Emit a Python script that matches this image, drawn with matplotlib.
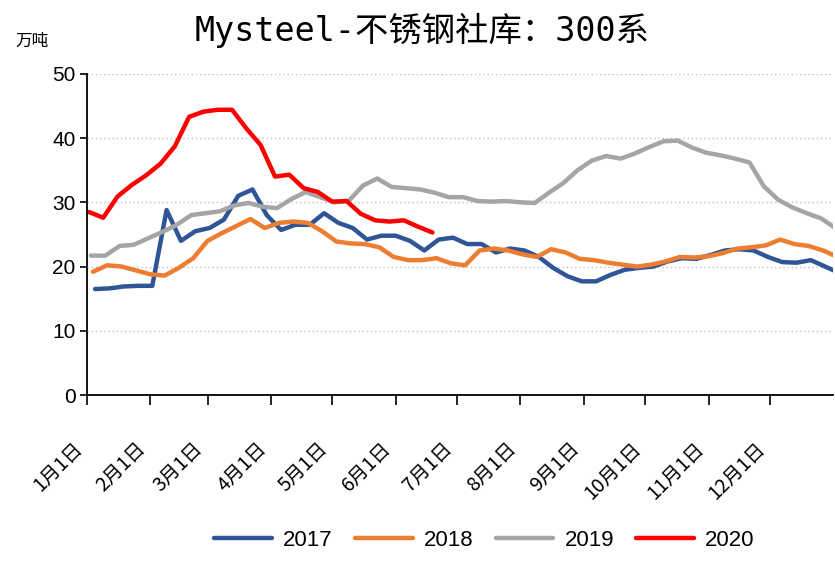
import numpy as np
import pandas as pd
import matplotlib
matplotlib.use('Agg')
import matplotlib.pyplot as plt

plt.rcParams['font.family'] = ['Liberation Sans', 'Noto Sans CJK SC', 'DejaVu Sans']

# 周度数据（万吨），每年第一周的日期不同
v2017 = [16.5, 16.6, 16.9, 17.0, 17.0, 28.8, 24.0, 25.5, 26.0, 27.3, 31.0, 32.0, 28.0,
         25.7, 26.5, 26.5, 28.3, 26.8, 26.0, 24.2, 24.8, 24.8, 24.0, 22.5, 24.2, 24.5,
         23.5, 23.5, 22.2, 22.8, 22.5, 21.5, 19.8, 18.5, 17.7, 17.7, 18.7, 19.5, 19.8,
         20.0, 20.8, 21.3, 21.2, 21.8, 22.5, 22.7, 22.5, 21.5, 20.7, 20.6, 21.0, 20.0, 19.0]
v2018 = [19.2, 20.2, 20.0, 19.4, 18.8, 18.6, 19.8, 21.3, 24.0, 25.2, 26.3, 27.4, 26.0,
         26.8, 27.0, 26.8, 25.5, 23.9, 23.6, 23.5, 23.0, 21.5, 21.0, 21.0, 21.3, 20.5,
         20.2, 22.5, 22.8, 22.5, 21.9, 21.5, 22.7, 22.2, 21.2, 21.0, 20.6, 20.3, 20.0,
         20.3, 20.8, 21.5, 21.4, 21.6, 22.1, 22.8, 23.0, 23.3, 24.2, 23.5, 23.2, 22.5, 21.5]
v2019 = [21.7, 21.7, 23.2, 23.4, 24.4, 25.4, 26.5, 28.0, 28.3, 28.6, 29.5, 29.9, 29.3,
         29.1, 30.5, 31.6, 30.8, 30.0, 30.2, 32.6, 33.7, 32.4, 32.2, 32.0, 31.5, 30.8,
         30.8, 30.2, 30.1, 30.2, 30.0, 29.9, 31.5, 33.0, 35.0, 36.5, 37.2, 36.8, 37.6,
         38.6, 39.5, 39.6, 38.5, 37.7, 37.3, 36.8, 36.2, 32.5, 30.4, 29.2, 28.3, 27.5, 26.0]
v2020 = [28.5, 27.6, 30.9, 32.7, 34.2, 36.0, 38.7, 43.3, 44.1, 44.4, 44.4, 41.5, 38.9,
         34.0, 34.3, 32.2, 31.6, 30.1, 30.2, 28.2, 27.2, 27.0, 27.2, 26.2, 25.3]

series = [
    ('2017', '2017-01-05', v2017, '#2F5597'),
    ('2018', '2018-01-04', v2018, '#ED7D31'),
    ('2019', '2019-01-03', v2019, '#A5A5A5'),
    ('2020', '2020-01-02', v2020, '#FF0000'),
]

month_ticks = [0, 31, 59, 90, 120, 151, 181, 212, 243, 273, 304, 334]
month_labels = ['%d月1日' % m for m in range(1, 13)]

fig = plt.figure(figsize=(8.35, 5.81), dpi=100)
ax = fig.add_axes([0.104, 0.32, 0.894, 0.553])

for name, start, vals, color in series:
    dates = pd.date_range(start, periods=len(vals), freq='7D')
    # 按当年1月1日起算的天数，年末一周可越过365
    x = (dates - pd.Timestamp(start[:4] + '-01-01')).days
    ax.plot(x, vals, color=color, lw=3.2, label=name, solid_capstyle='round')

ax.set_xlim(0, 365)
ax.set_ylim(0, 50)
ax.set_yticks(range(0, 51, 10))
ax.yaxis.grid(True, linestyle=(0, (1, 2)), color='#BFBFBF', lw=1)
ax.set_axisbelow(True)

ax.set_xticks(month_ticks)
ax.set_xticklabels(month_labels, rotation=45, ha='right', va='top',
                   fontsize=14, family=['Noto Sans CJK SC'])
ax.tick_params(axis='x', direction='out', length=7, width=1.2, pad=24)
ax.tick_params(axis='y', direction='out', length=5, width=1.2, labelsize=15, pad=3)

for s in ['top', 'right']:
    ax.spines[s].set_visible(False)
ax.spines['left'].set_linewidth(1.3)
ax.spines['bottom'].set_linewidth(1.3)

fig.text(0.505, 0.948, 'Mysteel-不锈钢社库：300系', ha='center', va='center',
         fontsize=24, family=['DejaVu Sans Mono', 'Noto Sans CJK SC'])
fig.text(0.018, 0.928, '万吨', ha='left', va='center', fontsize=12,
         family=['Noto Sans CJK SC'])

fig.legend(loc='center', bbox_to_anchor=(0.58, 0.07), ncol=4, frameon=False,
           fontsize=16, handlelength=2.6, columnspacing=1.0, handletextpad=0.5)

fig.savefig('out.png', dpi=100)
